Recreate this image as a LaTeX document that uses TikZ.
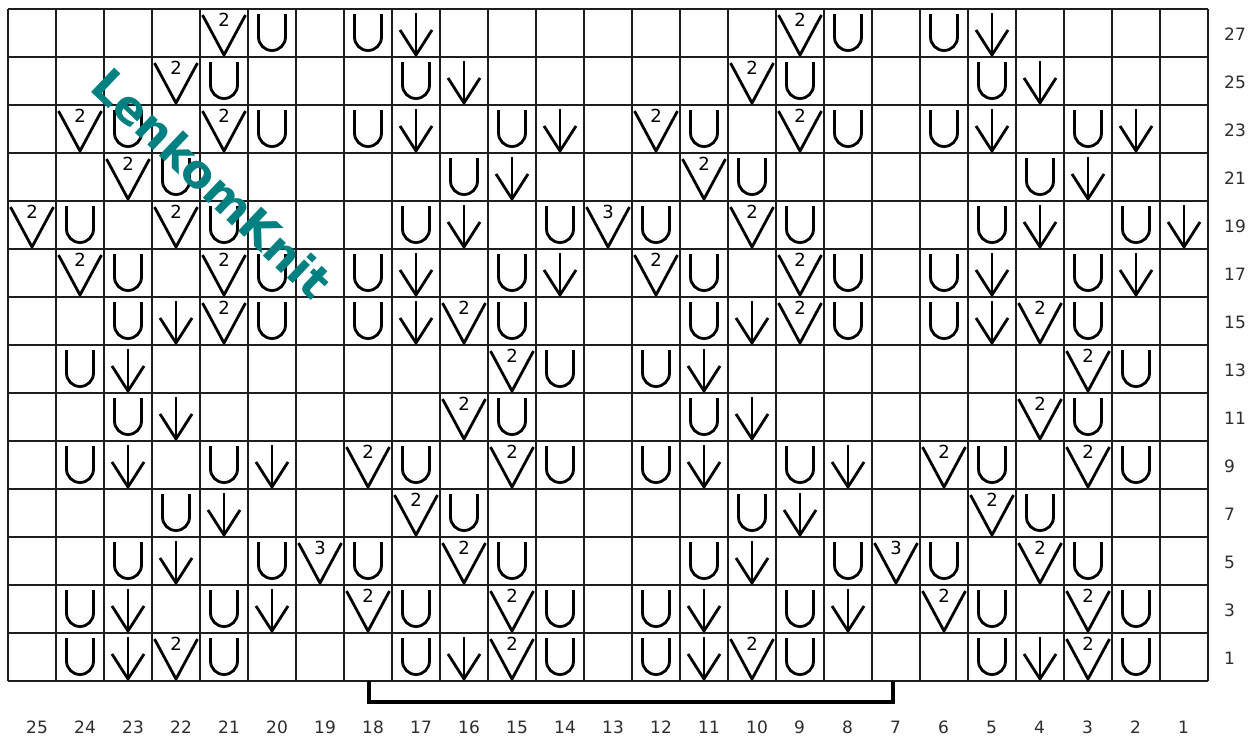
\documentclass[tikz,border=0pt]{standalone}
\usepackage{fontspec}
\setmainfont{DejaVu Sans}
\definecolor{wmteal}{RGB}{0,128,128}
\definecolor{gridc}{RGB}{30,30,30}
\definecolor{labc}{RGB}{45,45,45}
\tikzset{
 sym/.style={line width=2.8pt, black, line join=round},
 gridline/.style={line width=1.8pt, gridc},
 lab/.style={font=\fontsize{17}{17}\selectfont, text=labc, inner sep=0pt, anchor=base west},
 dig/.style={font=\fontsize{18}{18}\selectfont, inner sep=0pt},
 wm/.style={font=\bfseries\fontsize{46}{46}\selectfont, text=wmteal, inner sep=0pt},
 bracket/.style={line width=3.5pt, black},
}
\newcommand\kcell[2]{\pgfmathsetmacro\kx{32+(25-#1)*48}\pgfmathsetmacro\ky{-(9+(27-#2)*24)}}
\newcommand\kU[2]{\kcell{#1}{#2}\draw[sym] (\kx-13.5,\ky-5) -- (\kx-13.5,\ky-28) arc[start angle=180,end angle=360,radius=13.5] -- (\kx+13.5,\ky-5);}
\newcommand\kA[2]{\kcell{#1}{#2}\draw[sym] (\kx,\ky-4) -- (\kx,\ky-45); \draw[sym] (\kx-16,\ky-21) -- (\kx,\ky-46) -- (\kx+16,\ky-21);}
\newcommand\kV[3]{\kcell{#1}{#2}\draw[sym] (\kx-21.5,\ky-6) -- (\kx,\ky-46) -- (\kx+21.5,\ky-6); \node[dig] at (\kx,\ky-11) {#3};}
\begin{document}
\begin{tikzpicture}[x=1pt,y=1pt]
\fill[white] (0,0) rectangle (1257,-740);
\useasboundingbox (0,0) rectangle (1257,-740);
% grid
\foreach \i in {0,...,25} \draw[gridline] ({8+\i*48},-9) -- ({8+\i*48},-681);
\foreach \j in {0,...,14} \draw[gridline] (8,{-9-\j*48}) -- (1208,{-9-\j*48});
% symbols: row / yarn overs / arrows / 2-together
\foreach \r/\us/\as/\vs in {
 27/{20,18,8,6}/{17,5}/{21,9},
 25/{21,17,9,5}/{16,4}/{22,10},
 23/{23,20,18,15,11,8,6,3}/{17,14,5,2}/{24,21,12,9},
 21/{22,16,10,4}/{15,3}/{23,11},
 19/{24,21,17,14,12,9,5,2}/{16,4,1}/{25,22,10},
 17/{23,20,18,15,11,8,6,3}/{17,14,5,2}/{24,21,12,9},
 15/{23,20,18,15,11,8,6,3}/{22,17,10,5}/{21,16,9,4},
 13/{24,14,12,2}/{23,11}/{15,3},
 11/{23,15,11,3}/{22,10}/{16,4},
 9/{24,21,17,14,12,9,5,2}/{23,20,11,8}/{18,15,6,3},
 7/{22,16,10,4}/{21,9}/{17,5},
 5/{23,20,18,15,11,8,6,3}/{22,10}/{16,4},
 3/{24,21,17,14,12,9,5,2}/{23,20,11,8}/{18,15,6,3},
 1/{24,21,17,14,12,9,5,2}/{23,16,11,4}/{22,15,10,3}}{
 \foreach \c in \us {\kU{\c}{\r}}
 \foreach \c in \as {\kA{\c}{\r}}
 \foreach \c in \vs {\kV{\c}{\r}{2}}
}
\kV{13}{19}{3}
\kV{19}{5}{3}
\kV{7}{5}{3}
% labels
\foreach \c in {1,...,25} \node[lab] (col\c) at ({32+(25-\c)*48-6},-733) {\c};
\foreach \r in {1,3,...,27} \node[lab] (row\r) at (1224,{-(9+(27-\r)*24+31)}) {\r};
% bracket
\coordinate (bl) at (369,-681);
\coordinate (br) at (893,-681);
\draw[bracket] (bl) -- ++(0,-21) -| (br);
% watermark
\node[wm, rotate=-43.5] (wm) at (212,-183) {LenkomKnit};
\end{tikzpicture}
\end{document}
